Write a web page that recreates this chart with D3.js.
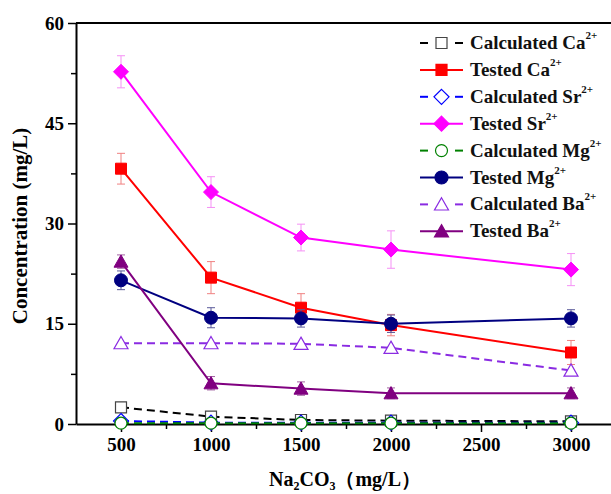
<!DOCTYPE html>
<html>
<head>
<meta charset="utf-8">
<script src="https://cdn.jsdelivr.net/npm/d3@7"></script>
<style>
  body { margin: 0; background: #fff; }
  svg { display: block; }
  text { font-family: "Liberation Serif", "Times New Roman", serif; font-weight: bold; }
</style>
</head>
<body>
<div id="chart-area"></div>
<script>
// Data
let doses = [500, 1000, 1500, 2000, 3000];
let xTicks = [500, 1000, 1500, 2000, 2500, 3000];
let yTicks = [0, 15, 30, 45, 60];

let calcCa = [2.5, 1.1, 0.6, 0.5, 0.4];
let testCa = [38.2, 21.9, 17.4, 14.8, 10.7];
let testCaErr = [2.3, 2.4, 2.1, 1.6, 1.8];
let calcSr = [0.45, 0.2, 0.2, 0.2, 0.2];
let testSr = [52.7, 34.7, 27.9, 26.1, 23.1];
let testSrErr = [2.4, 2.3, 2.0, 2.8, 2.4];
let calcMg = [0.12, 0.12, 0.12, 0.12, 0.12];
let testMg = [21.5, 15.9, 15.8, 15.0, 15.8];
let testMgErr = [1.4, 1.5, 1.3, 1.3, 1.3];
let calcBa = [12.1, 12.1, 12.0, 11.4, 8.0];
let testBa = [24.3, 6.1, 5.3, 4.6, 4.6];
let testBaErr = [1.0, 1.0, 1.0, 0.8, 0.8];

let series = [
    {name: "Calculated Ca", values: calcCa, color: "#000000", dash: true, shape: "square", fill: false, size: 11},
    {name: "Tested Ca", values: testCa, err: testCaErr, color: "#ff0000", errColor: "#f08080", dash: false, shape: "square", fill: true, size: 11},
    {name: "Calculated Sr", values: calcSr, color: "#0000ff", dash: true, shape: "diamond", fill: false, size: 15},
    {name: "Tested Sr", values: testSr, err: testSrErr, color: "#ff00ff", errColor: "#f590f5", dash: false, shape: "diamond", fill: true, size: 15},
    {name: "Calculated Mg", values: calcMg, color: "#008000", dash: true, shape: "circle", fill: false, size: 12},
    {name: "Tested Mg", values: testMg, err: testMgErr, color: "#000080", errColor: "#5a5a9a", dash: false, shape: "circle", fill: true, size: 13},
    {name: "Calculated Ba", values: calcBa, color: "#8a2be2", dash: true, shape: "triangle", fill: false, size: 14},
    {name: "Tested Ba", values: testBa, err: testBaErr, color: "#800080", errColor: "#a060a0", dash: false, shape: "triangle", fill: true, size: 14}
];

let width = 611, height = 494;

let svg = d3.select("#chart-area")
    .append("svg")
    .attr("width", width)
    .attr("height", height);

// Scales
let x = d3.scaleLinear().domain([250, 3250]).range([76, 616]);
let y = d3.scaleLinear().domain([0, 60]).range([424, 23]);

// marker path, centred on 0,0
function marker(shape, s) {
    let h = s / 2;
    if (shape === "square") return `M${-h},${-h}H${h}V${h}H${-h}Z`;
    if (shape === "diamond") return `M0,${-h}L${h},0L0,${h}L${-h},0Z`;
    if (shape === "triangle") return `M0,${-h * 0.95}L${h},${h * 0.8}L${-h},${h * 0.8}Z`;
    return `M${h},0A${h},${h} 0 1,1 ${-h},0A${h},${h} 0 1,1 ${h},0Z`;
}

// Frame (top line)
svg.append("line")
    .attr("x1", x(250)).attr("x2", x(3250))
    .attr("y1", y(60)).attr("y2", y(60))
    .attr("stroke", "#000").attr("stroke-width", 2);

// X axis
let xAxisCall = d3.axisBottom(x).tickValues(xTicks).tickSize(8).tickSizeOuter(0).tickPadding(6)
    .tickFormat(d3.format("d"));
svg.append("g")
    .attr("transform", `translate(0,${y(0)})`)
    .call(xAxisCall);
svg.append("g")
    .attr("transform", `translate(0,${y(0)})`)
    .call(d3.axisBottom(x).tickValues([750, 1250, 1750, 2250, 2750]).tickSize(5).tickFormat(""))
    .select(".domain").remove();

// Y axis
let yAxisCall = d3.axisLeft(y).tickValues(yTicks).tickSize(8).tickSizeOuter(0).tickPadding(4)
    .tickFormat(d3.format("d"));
svg.append("g")
    .attr("transform", `translate(${x(250)},0)`)
    .call(yAxisCall);
svg.append("g")
    .attr("transform", `translate(${x(250)},0)`)
    .call(d3.axisLeft(y).tickValues([7.5, 22.5, 37.5, 52.5]).tickSize(5).tickFormat(""))
    .select(".domain").remove();

svg.selectAll(".domain").attr("stroke-width", 2);
svg.selectAll(".tick line").attr("stroke-width", 1.5);
svg.selectAll(".tick text")
    .attr("font-size", "19px")
    .attr("font-family", "Liberation Serif, serif")
    .attr("font-weight", "bold")
    .attr("fill", "#000");

// Labels
svg.append("text")
    .attr("transform", "translate(27,226) rotate(-90)")
    .attr("text-anchor", "middle")
    .attr("font-size", "21px")
    .text("Concentration (mg/L)");

let xLabel = svg.append("text")
    .attr("x", 345)
    .attr("y", 486)
    .attr("text-anchor", "middle")
    .attr("font-size", "20px");
xLabel.append("tspan").text("Na");
xLabel.append("tspan").attr("font-size", "12px").attr("dy", 4).text("2");
xLabel.append("tspan").attr("dy", -4).text("CO");
xLabel.append("tspan").attr("font-size", "12px").attr("dy", 4).text("3");
xLabel.append("tspan").attr("dy", -4).text("（mg/L）");

// Lines, error bars and markers
let line = d3.line()
    .x((d, i) => x(doses[i]))
    .y(d => y(d));

series.forEach(s => {
    let g = svg.append("g");
    if (s.err) {
        let eb = g.selectAll(".err").data(s.values).enter().append("g")
            .attr("stroke", s.errColor).attr("stroke-width", 1);
        eb.append("line")
            .attr("x1", (d, i) => x(doses[i])).attr("x2", (d, i) => x(doses[i]))
            .attr("y1", (d, i) => y(d + s.err[i])).attr("y2", (d, i) => y(d - s.err[i]));
        eb.append("line")
            .attr("x1", (d, i) => x(doses[i]) - 4).attr("x2", (d, i) => x(doses[i]) + 4)
            .attr("y1", (d, i) => y(d + s.err[i])).attr("y2", (d, i) => y(d + s.err[i]));
        eb.append("line")
            .attr("x1", (d, i) => x(doses[i]) - 4).attr("x2", (d, i) => x(doses[i]) + 4)
            .attr("y1", (d, i) => y(d - s.err[i])).attr("y2", (d, i) => y(d - s.err[i]));
    }
    g.append("path")
        .attr("d", line(s.values))
        .attr("fill", "none")
        .attr("stroke", s.color)
        .attr("stroke-width", 2)
        .attr("stroke-dasharray", s.dash ? "8,5" : null);
    g.selectAll(".pt").data(s.values).enter().append("path")
        .attr("transform", (d, i) => `translate(${x(doses[i])},${y(d)})`)
        .attr("d", marker(s.shape, s.size))
        .attr("fill", s.fill ? s.color : "#fff")
        .attr("stroke", s.fill ? s.color : (s.shape === "square" ? "#444" : s.color))
        .attr("stroke-width", s.fill ? 1 : 1.2);
});

// LEGEND
let legend = svg.append("g").attr("transform", "translate(420,43)");
series.forEach((s, i) => {
    let row = legend.append("g").attr("transform", `translate(0,${i * 26.9})`);
    if (s.dash) {
        row.append("line").attr("x1", 0).attr("x2", 8).attr("stroke", s.color).attr("stroke-width", 2);
        row.append("line").attr("x1", 35).attr("x2", 43).attr("stroke", s.color).attr("stroke-width", 2);
    } else {
        row.append("line").attr("x1", 0).attr("x2", 43).attr("stroke", s.color).attr("stroke-width", 2);
    }
    row.append("path")
        .attr("transform", "translate(21.5,0)")
        .attr("d", marker(s.shape, s.size))
        .attr("fill", s.fill ? s.color : "#fff")
        .attr("stroke", s.fill ? s.color : (s.shape === "square" ? "#444" : s.color))
        .attr("stroke-width", 1.2);
    let t = row.append("text")
        .attr("x", 50)
        .attr("y", 6)
        .attr("font-size", "19px")
        .attr("fill", "#111");
    t.append("tspan").text(s.name);
    t.append("tspan").attr("font-size", "11px").attr("dy", -10).text("2+");
});
</script>
</body>
</html>
